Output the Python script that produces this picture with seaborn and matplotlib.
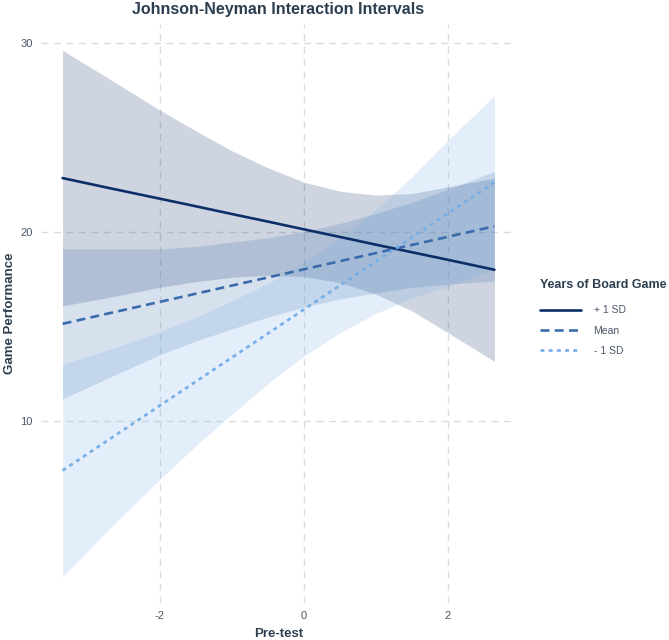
import numpy as np
import pandas as pd
import matplotlib
matplotlib.use("Agg")
import matplotlib.pyplot as plt
from matplotlib.lines import Line2D
import seaborn as sns

# ---- data ----
pretest = [-3.35, -2.7, -2.0, -1.5, -1.0, -0.5, 0.0, 0.5, 1.0, 1.5, 2.0, 2.65]
groups = ["+ 1 SD", "Mean", "- 1 SD"]

fit_plus = [22.85, 22.32, 21.76, 21.36, 20.95, 20.55, 20.14, 19.74, 19.33, 18.93, 18.53, 18.00]
low_plus = [16.09, 16.54, 17.07, 17.37, 17.60, 17.70, 17.64, 17.32, 16.71, 15.83, 14.68, 13.15]
up_plus = [29.61, 28.10, 26.45, 25.35, 24.30, 23.40, 22.64, 22.16, 21.95, 22.03, 22.38, 22.85]

fit_mean = [15.14, 15.70, 16.30, 16.73, 17.16, 17.59, 18.02, 18.45, 18.88, 19.31, 19.74, 20.30]
low_mean = [11.17, 12.30, 13.50, 14.23, 14.86, 15.49, 16.02, 16.45, 16.78, 17.06, 17.24, 17.40]
up_mean = [19.11, 19.10, 19.10, 19.23, 19.46, 19.69, 20.02, 20.45, 20.98, 21.56, 22.24, 23.20]

fit_minus = [7.38, 9.03, 10.81, 12.08, 13.35, 14.62, 15.89, 17.16, 18.43, 19.70, 20.97, 22.62]
low_minus = [1.76, 4.28, 6.91, 8.68, 10.35, 11.97, 13.42, 14.66, 15.68, 16.50, 17.10, 18.02]
up_minus = [13.00, 13.78, 14.71, 15.48, 16.35, 17.27, 18.36, 19.66, 21.18, 22.90, 24.84, 27.22]

x_ticks = [-2, 0, 2]
y_ticks = [10, 20, 30]

colors = {"+ 1 SD": "#0B2F66", "Mean": "#3B6BAA", "- 1 SD": "#74AEE8"}
dashes = {"+ 1 SD": "", "Mean": (3.4, 2.0), "- 1 SD": (1.5, 1.6)}

fits = {"+ 1 SD": fit_plus, "Mean": fit_mean, "- 1 SD": fit_minus}
lows = {"+ 1 SD": low_plus, "Mean": low_mean, "- 1 SD": low_minus}
ups = {"+ 1 SD": up_plus, "Mean": up_mean, "- 1 SD": up_minus}

df = pd.concat([
    pd.DataFrame({"Pre-test": pretest, "fit": fits[g], "lo": lows[g],
                  "hi": ups[g], "group": g}) for g in groups
], ignore_index=True)

# ---- styling ----
sns.set_theme(style="whitegrid")
plt.rcParams["font.family"] = ["Liberation Sans", "DejaVu Sans"]
text_col = "#2C3E50"
tick_col = "#4A5568"

fig = plt.figure(figsize=(6.69, 6.40), dpi=100)
ax = fig.add_axes([41 / 669, 1 - 603 / 640, (516 - 41) / 669, (603 - 24) / 640])
ax.set_facecolor("white")

for g in groups:
    sub = df[df["group"] == g]
    ax.fill_between(sub["Pre-test"], sub["lo"], sub["hi"],
                    color=colors[g], alpha=0.2, linewidth=0, zorder=1)

sns.lineplot(data=df, x="Pre-test", y="fit", hue="group", style="group",
             hue_order=groups, style_order=groups, palette=colors,
             dashes=dashes, linewidth=1.9, ax=ax, legend=False, zorder=3)

# axis limits (ggplot-like 5% expansion)
allx = np.array(pretest)
ally = np.concatenate([low_plus, up_plus, low_mean, up_mean, low_minus, up_minus])
xr = allx.max() - allx.min()
yr = ally.max() - ally.min()
ax.set_xlim(allx.min() - 0.05 * xr, allx.max() + 0.05 * xr)
ax.set_ylim(ally.min() - 0.05 * yr, ally.max() + 0.05 * yr)

ax.set_xticks(x_ticks)
ax.set_xticklabels([str(t) for t in x_ticks])
ax.set_yticks(y_ticks)
ax.grid(True, which="major", color="#DCDCDC", linestyle=(0, (5, 4)), linewidth=1.0)
ax.set_axisbelow(True)
for s in ax.spines.values():
    s.set_visible(False)
ax.tick_params(axis="both", length=0, labelsize=8, labelcolor=tick_col, pad=6)

ax.set_xlabel("Pre-test", fontsize=9.5, fontweight="bold", color=text_col, labelpad=5)
ax.set_ylabel("Game Performance", fontsize=9.5, fontweight="bold", color=text_col, labelpad=3)
ax.set_title("Johnson-Neyman Interaction Intervals", fontsize=11.5,
             fontweight="bold", color=text_col, pad=7)

# legend
handles = []
for g in groups:
    ls = "-" if dashes[g] == "" else (0, dashes[g])
    handles.append(Line2D([0], [0], color=colors[g], linewidth=1.9, linestyle=ls))
leg = fig.legend(handles, groups, title="Years of Board Game",
                 loc="upper left", bbox_to_anchor=(531 / 669, 1 - 270 / 640),
                 frameon=False, fontsize=7.5, title_fontsize=9,
                 handlelength=3.9, handletextpad=1.2, labelspacing=1.0,
                 alignment="left")
leg.get_title().set_fontweight("bold")
leg.get_title().set_color(text_col)
for t in leg.get_texts():
    t.set_color(tick_col)
leg._legend_box.sep = 10

fig.savefig("out.png", dpi=100, facecolor="white")
